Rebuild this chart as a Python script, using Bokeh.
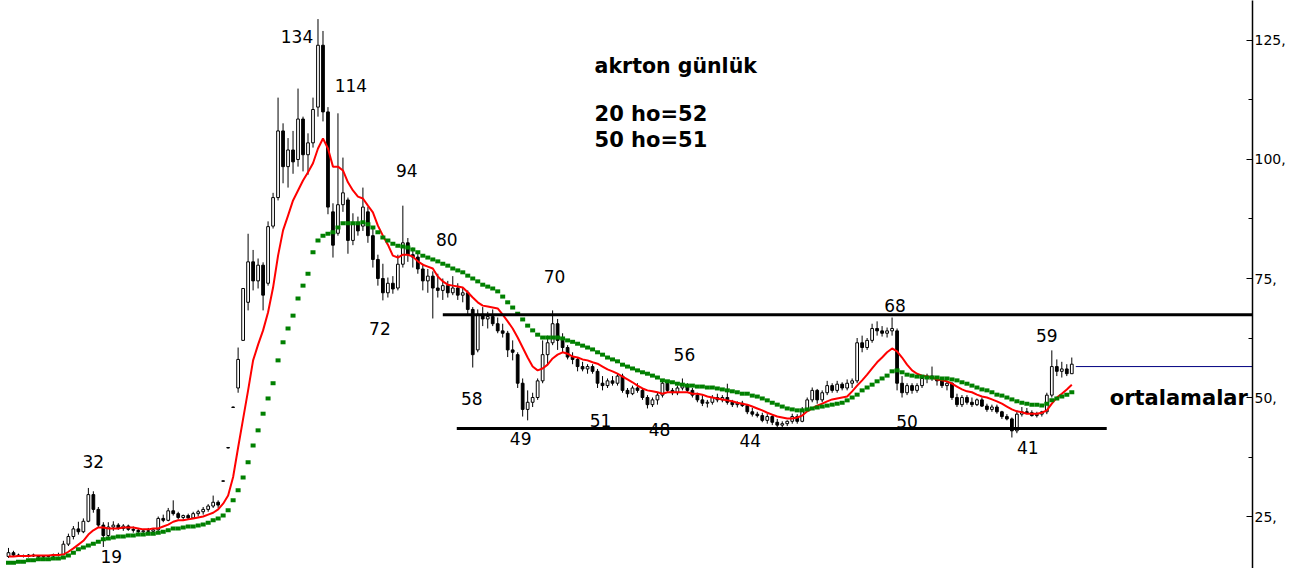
from bokeh.plotting import figure
from bokeh.models import Range1d, FixedTicker, CustomJSTickFormatter, ColumnDataSource
from bokeh.core.properties import value
from bokeh.embed import file_html
from bokeh.resources import INLINE

# ---------------- data (daily bars) ----------------
open_ = [
    16.6, 17.4, 16.9, 16.7, 16.6, 16.9, 16.7, 16.5, 16.6, 16.7,
    17.0, 17.0, 19.2, 20.8, 22.4, 21.8, 24.0, 29.6, 26.5, 23.2,
    21.0, 22.8, 23.2, 22.5, 23.0, 22.3, 22.1, 21.8, 22.0, 21.9,
    22.2, 24.6, 24.2, 26.2, 25.6, 24.8, 25.2, 24.7, 25.6, 26.0,
    26.5, 27.2, 28.0, 32.4, 39.4, 47.9, 52.0, 62.0, 70.0, 78.5,
    74.5, 77.8, 74.0, 86.0, 92.0, 106.0, 98.5, 102.0, 100.0, 108.5,
    101.0, 103.5, 111.0, 124.0, 110.0, 89.0, 84.5, 90.5, 91.5, 83.0,
    86.5, 86.0, 89.0, 84.0, 79.0, 75.0, 72.0, 74.0, 73.0, 78.0,
    82.5, 80.0, 79.5, 77.0, 74.5, 75.5, 73.0, 72.5, 73.5, 72.0,
    73.0, 71.5, 72.0, 68.5, 60.0, 67.5, 66.5, 67.0, 65.5, 64.0,
    63.5, 60.0, 59.0, 53.0, 47.5, 49.0, 50.0, 53.5, 59.0, 61.5,
    65.5, 62.0, 60.5, 58.5, 58.0, 56.5, 56.0, 56.5, 55.5, 53.0,
    52.5, 53.5, 53.0, 54.5, 51.5, 50.8, 52.0, 51.5, 50.0, 48.5,
    49.5, 50.5, 53.0, 51.5, 51.0, 52.0, 52.5, 51.5, 50.5, 49.5,
    48.8, 49.0, 50.0, 49.5, 50.0, 49.0, 48.5, 48.8, 48.3, 47.0,
    46.5, 46.2, 45.2, 46.0, 44.8, 44.2, 44.5, 45.0, 46.0, 45.0,
    47.5, 49.5, 51.5, 49.5, 51.0, 52.5, 51.5, 52.8, 52.0, 53.0,
    53.5, 61.5, 60.5, 62.0, 64.5, 64.0, 63.5, 64.0, 64.0, 53.0,
    51.0, 52.5, 51.5, 52.5, 54.0, 54.5, 54.0, 53.5, 52.5, 53.0,
    50.0, 48.5, 50.0, 49.0, 48.5, 49.5, 48.2, 47.5, 48.0, 47.0,
    46.0, 45.5, 43.0, 46.5, 47.0, 46.8, 46.2, 46.5, 47.0, 50.5,
    56.5, 55.5, 56.0, 55.0,
]
high = [
    18.4, 17.8, 17.2, 17.0, 17.1, 17.2, 16.9, 16.8, 16.9, 17.2,
    17.4, 19.9, 21.4, 23.0, 23.9, 24.6, 31.0, 30.3, 27.0, 23.8,
    23.8, 24.0, 23.6, 23.4, 23.3, 22.9, 22.6, 22.4, 22.6, 22.4,
    25.0, 25.4, 26.8, 28.4, 26.0, 25.4, 25.6, 26.0, 26.4, 27.0,
    27.6, 29.4, 28.4, 32.6, 39.6, 48.1, 60.5, 73.0, 84.4, 81.0,
    79.2, 78.4, 87.0, 93.0, 113.0, 107.6, 104.5, 106.0, 114.9, 109.0,
    105.5, 113.0, 129.5, 127.0, 111.0, 90.8, 109.7, 100.4, 92.0, 88.7,
    88.0, 94.1, 90.0, 85.7, 80.0, 78.1, 75.2, 75.5, 80.0, 90.3,
    83.5, 81.5, 80.5, 78.1, 77.0, 76.5, 76.0, 75.0, 74.5, 75.5,
    74.0, 73.0, 72.5, 69.0, 68.5, 69.0, 68.0, 68.5, 66.8, 65.5,
    64.0, 62.0, 59.5, 54.0, 51.5, 51.0, 54.0, 62.0, 63.0, 68.3,
    66.5, 63.5, 61.0, 59.5, 58.5, 57.5, 57.0, 57.0, 56.0, 54.5,
    54.0, 54.5, 55.0, 55.0, 52.0, 52.5, 53.0, 52.0, 50.5, 50.0,
    51.0, 53.6, 53.5, 52.0, 52.5, 54.0, 53.0, 52.0, 51.0, 50.5,
    49.5, 50.5, 50.8, 50.5, 52.9, 49.5, 49.2, 49.3, 48.5, 47.8,
    47.0, 46.8, 46.5, 46.5, 45.5, 45.0, 45.2, 46.6, 46.5, 48.0,
    50.0, 52.1, 51.8, 51.5, 53.5, 53.0, 53.5, 53.2, 53.8, 54.0,
    62.5, 63.0, 62.5, 65.5, 66.0, 65.0, 64.7, 66.8, 64.5, 54.5,
    53.0, 53.0, 53.0, 54.5, 55.0, 56.5, 54.5, 54.2, 53.5, 53.2,
    50.8, 50.5, 50.5, 50.0, 49.8, 50.0, 48.7, 48.5, 48.5, 47.2,
    46.5, 45.8, 47.3, 48.0, 47.8, 47.3, 47.0, 47.2, 51.0, 59.9,
    58.0, 57.5, 57.0, 58.4,
]
low = [
    16.3, 16.6, 16.5, 16.4, 16.4, 16.5, 16.3, 16.2, 16.4, 16.5,
    16.6, 16.9, 18.8, 20.2, 21.2, 21.5, 23.8, 25.8, 22.6, 18.6,
    20.3, 22.0, 22.2, 22.0, 22.0, 21.6, 21.5, 21.4, 21.6, 21.5,
    22.0, 23.8, 24.0, 25.2, 24.4, 24.3, 24.4, 24.5, 25.0, 25.4,
    26.0, 26.8, 26.8, 32.3, 39.3, 47.8, 51.0, 62.0, 68.3, 72.5,
    72.9, 68.3, 73.5, 85.5, 91.4, 95.0, 94.1, 97.0, 98.5, 97.5,
    96.8, 102.5, 109.0, 108.0, 88.5, 79.4, 84.0, 89.0, 80.2, 82.0,
    84.0, 85.0, 82.5, 77.3, 73.5, 70.4, 71.0, 71.8, 72.5, 77.3,
    78.5, 77.3, 76.0, 72.5, 72.0, 66.6, 71.0, 70.5, 71.0, 71.5,
    70.5, 70.0, 67.2, 56.3, 59.5, 65.0, 64.5, 65.0, 63.5, 62.6,
    58.5, 57.8, 52.0, 46.0, 45.2, 48.0, 49.5, 53.0, 57.0, 61.0,
    60.0, 59.5, 58.0, 57.0, 55.5, 55.5, 55.0, 55.0, 52.0, 51.5,
    52.0, 52.5, 52.5, 51.0, 50.0, 50.5, 51.0, 49.5, 47.7, 48.0,
    48.5, 50.0, 51.0, 50.5, 50.5, 51.5, 51.0, 50.0, 49.0, 48.2,
    47.9, 48.5, 49.0, 49.0, 48.5, 48.0, 47.9, 48.0, 46.5, 46.0,
    45.8, 44.8, 44.5, 44.2, 43.7, 43.8, 44.0, 44.5, 44.5, 44.8,
    47.0, 49.0, 48.7, 49.0, 50.5, 51.0, 51.0, 51.5, 51.5, 52.0,
    53.0, 59.5, 60.0, 61.5, 63.0, 62.8, 62.6, 63.0, 51.5, 50.0,
    50.5, 50.8, 51.0, 52.0, 53.0, 53.5, 52.5, 52.0, 51.5, 49.5,
    48.0, 48.0, 48.5, 48.0, 48.2, 48.0, 47.0, 47.0, 46.6, 45.5,
    45.2, 41.6, 42.5, 46.0, 46.5, 46.0, 45.8, 46.0, 46.5, 50.0,
    54.5, 54.2, 54.5, 55.0,
]
close = [
    17.4, 16.9, 16.7, 16.6, 16.9, 16.7, 16.5, 16.6, 16.7, 17.0,
    16.9, 19.2, 20.8, 22.4, 21.8, 24.0, 29.6, 26.5, 23.2, 21.0,
    22.8, 23.2, 22.5, 23.0, 22.3, 22.1, 21.8, 22.0, 21.9, 22.2,
    24.6, 24.2, 26.2, 25.6, 24.8, 25.2, 24.7, 25.6, 26.0, 26.5,
    27.2, 28.0, 27.4, 32.5, 39.5, 48.0, 58.0, 72.9, 78.5, 74.5,
    77.8, 71.5, 85.9, 92.0, 106.0, 98.5, 102.0, 99.5, 108.5, 101.0,
    103.5, 110.5, 124.0, 110.0, 90.0, 82.0, 90.5, 93.0, 83.0, 86.5,
    85.0, 90.0, 84.0, 79.0, 75.0, 72.0, 74.0, 72.8, 78.0, 82.5,
    80.0, 79.5, 77.0, 74.5, 75.5, 73.0, 72.5, 73.5, 72.0, 73.0,
    71.5, 72.0, 68.5, 59.0, 67.5, 66.5, 67.0, 65.5, 64.0, 63.5,
    60.0, 59.5, 53.0, 47.5, 49.0, 50.0, 53.5, 59.0, 61.5, 65.5,
    62.0, 60.5, 58.5, 58.0, 56.5, 56.0, 56.5, 55.5, 53.0, 52.5,
    53.5, 53.0, 54.5, 51.5, 50.8, 52.0, 51.5, 50.0, 48.5, 49.5,
    50.5, 53.0, 51.5, 51.0, 52.0, 52.5, 51.5, 50.5, 49.5, 48.8,
    49.0, 50.0, 49.5, 50.0, 49.0, 48.5, 48.8, 48.3, 47.0, 46.5,
    46.2, 45.2, 46.0, 44.8, 44.2, 44.5, 45.0, 46.0, 45.0, 47.5,
    49.5, 51.5, 49.5, 51.0, 52.5, 51.5, 52.8, 52.0, 53.0, 53.5,
    61.5, 60.5, 62.0, 64.5, 64.0, 63.5, 64.0, 64.5, 53.0, 51.0,
    52.5, 51.5, 52.5, 54.0, 54.5, 54.0, 53.5, 52.5, 53.0, 50.0,
    48.5, 50.0, 49.0, 48.5, 49.5, 48.2, 47.5, 48.0, 47.0, 46.0,
    45.5, 43.0, 46.5, 47.0, 46.8, 46.2, 46.5, 47.0, 50.5, 56.5,
    55.5, 56.0, 55.0, 57.0,
]
ma20 = [
    16.6, 16.6, 16.7, 16.7, 16.7, 16.8, 16.8, 16.8, 16.8, 16.9,
    16.9, 17.0, 17.6, 18.3, 19.1, 19.9, 21.2, 22.1, 22.7, 22.7,
    22.5, 22.5, 22.5, 22.7, 22.7, 22.7, 22.5, 22.3, 22.3, 22.5,
    22.5, 22.9, 23.3, 23.9, 24.2, 24.2, 24.4, 24.6, 24.8, 25.0,
    25.4, 25.8, 26.5, 27.7, 29.4, 33.3, 39.5, 45.5, 51.5, 57.8,
    61.1, 64.1, 67.9, 73.1, 79.8, 85.1, 88.2, 91.4, 93.5, 95.6,
    97.3, 99.2, 102.3, 104.4, 102.3, 98.5, 98.5, 97.7, 95.2, 93.5,
    92.2, 91.8, 90.3, 88.9, 86.1, 84.0, 82.1, 79.8, 79.4, 80.0,
    80.0, 79.6, 78.6, 77.9, 77.5, 77.1, 75.4, 74.4, 73.7, 73.5,
    73.3, 73.1, 72.1, 71.0, 70.0, 69.3, 69.1, 68.9, 68.7, 67.4,
    66.0, 64.5, 62.6, 60.5, 58.4, 56.5, 55.7, 56.1, 56.9, 58.2,
    59.0, 59.5, 59.2, 58.6, 58.4, 58.0, 57.8, 57.4, 57.1, 56.5,
    55.9, 55.5, 55.0, 54.4, 53.8, 53.2, 52.5, 51.9, 51.5, 51.3,
    51.1, 50.8, 51.1, 51.1, 51.1, 51.1, 51.1, 50.8, 50.8, 50.6,
    50.2, 50.0, 49.8, 49.6, 49.4, 49.2, 48.9, 48.7, 48.5, 48.1,
    47.7, 47.3, 46.8, 46.4, 46.0, 45.8, 45.6, 45.6, 45.8, 46.2,
    47.1, 47.7, 48.3, 48.7, 49.2, 49.6, 49.8, 50.0, 50.2, 51.3,
    52.5, 53.6, 54.8, 56.1, 57.4, 58.4, 59.5, 60.3, 59.7, 58.4,
    56.9, 55.7, 55.0, 54.6, 54.4, 54.2, 53.8, 53.6, 53.4, 52.9,
    52.3, 51.7, 51.3, 51.1, 50.6, 50.2, 50.0, 49.6, 49.2, 48.7,
    48.1, 47.5, 47.1, 46.9, 46.6, 46.6, 46.6, 46.8, 47.3, 48.7,
    50.0, 50.8, 51.7, 52.7,
]
ma50 = [
    15.3, 15.3, 15.5, 15.5, 15.8, 15.8, 16.0, 16.0, 16.0, 16.2,
    16.2, 16.4, 16.8, 17.4, 18.1, 18.5, 18.9, 19.3, 19.7, 20.2,
    20.4, 20.6, 20.8, 20.8, 21.0, 21.0, 21.2, 21.2, 21.4, 21.4,
    21.6, 21.8, 22.1, 22.5, 22.5, 22.7, 22.9, 22.9, 23.1, 23.3,
    23.7, 24.2, 24.6, 25.2, 26.3, 28.4, 30.5, 33.2, 36.4, 39.9,
    43.1, 46.6, 49.8, 53.0, 57.8, 61.6, 64.5, 67.2, 70.8, 73.5,
    76.0, 80.5, 83.0, 84.0, 84.4, 84.7, 85.7, 86.6, 86.6, 86.6,
    86.6, 86.8, 86.4, 85.7, 84.7, 83.6, 83.0, 82.3, 81.9, 81.7,
    81.5, 81.1, 80.5, 79.8, 79.4, 79.0, 78.6, 78.1, 77.7, 77.1,
    76.7, 76.3, 75.6, 75.0, 74.4, 73.7, 73.3, 72.9, 72.3, 71.2,
    70.0, 68.9, 67.6, 66.4, 65.1, 64.1, 63.2, 62.6, 62.6, 62.6,
    62.6, 62.4, 62.0, 61.7, 61.3, 60.9, 60.5, 60.1, 59.5, 59.0,
    58.4, 58.0, 57.6, 56.9, 56.5, 56.1, 55.7, 55.3, 55.0, 54.6,
    54.2, 53.6, 53.4, 53.2, 52.9, 52.7, 52.5, 52.5, 52.3, 52.3,
    52.1, 52.1, 51.9, 51.7, 51.5, 51.3, 51.1, 50.8, 50.8, 50.4,
    50.2, 49.8, 49.4, 48.9, 48.5, 48.1, 47.7, 47.5, 47.3, 47.3,
    47.5, 47.7, 47.9, 48.1, 48.3, 48.5, 48.7, 48.9, 49.4, 50.0,
    50.6, 51.5, 52.1, 52.7, 53.4, 54.0, 54.6, 55.5, 55.7, 55.3,
    54.8, 54.6, 54.4, 54.4, 54.2, 54.2, 54.2, 54.0, 54.0, 53.8,
    53.6, 53.2, 52.9, 52.5, 52.1, 51.7, 51.5, 51.1, 50.6, 50.4,
    50.0, 49.6, 49.2, 48.9, 48.7, 48.5, 48.5, 48.3, 48.7, 49.4,
    49.8, 50.2, 50.6, 51.1,
]

# horizontal levels drawn on the chart
resistance = 67.4
support = 43.5
last_level = 56.5

# annotation texts
peak_labels = ["134", "114", "94", "80", "72", "70", "58", "49", "51", "48",
               "56", "44", "68", "50", "41", "59", "32", "19"]
title_lines = ["akrton günlük", "20 ho=52", "50 ho=51"]
side_note = "ortalamalar"
y_ticks = [25, 50, 75, 100, 125]
y_minor = [12.5, 37.5, 62.5, 87.5, 112.5]

# ---------------- layout constants ----------------
lab_x = [57.8, 68.6, 79.8, 87.8, 74.4, 109.4, 92.8, 102.6, 118.6, 130.4,
         135.4, 148.6, 177.6, 180.0, 204.2, 208.0, 17.0, 20.6]
lab_y = [125.8, 115.5, 97.7, 83.2, 64.5, 75.4, 49.8, 41.4, 45.2, 43.3,
         59.0, 41.0, 69.3, 45.0, 39.5, 63.0, 36.6, 16.6]

n = len(close)
xs = list(range(n))

p = figure(width=1288, height=568, output_backend="svg", toolbar_location=None,
           x_range=Range1d(-1.6, 249.2), y_range=Range1d(14.08, 133.40),
           x_axis_location=None, y_axis_location="right",
           min_border_left=0, min_border_top=0, min_border_bottom=0,
           min_border_right=34)
p.grid.visible = False
p.outline_line_color = None
p.background_fill_color = "white"
p.border_fill_color = "white"

# candles
top = [max(o, c) for o, c in zip(open_, close)]
bot = [min(o, c) for o, c in zip(open_, close)]
fill = ["white" if c > o else "black" for o, c in zip(open_, close)]
src = ColumnDataSource(dict(x=xs, h=high, l=low, top=top, bot=bot, fill=fill))
p.segment(x0="x", y0="l", x1="x", y1="h", source=src, line_color="black", line_width=1)
p.vbar(x="x", top="top", bottom="bot", width=0.55, source=src,
       fill_color="fill", line_color="black", line_width=1)

# moving averages
p.line(xs, ma20, line_color="#ff0000", line_width=2)
p.rect(x=xs, y=ma50, width=1.0, height=4, height_units="screen",
       fill_color="#008000", line_color=None)

# levels
p.line([87, 252], [resistance, resistance], line_color="black", line_width=3)
p.line([89.8, 220], [support, support], line_color="black", line_width=3)
p.line([213.8, 252], [last_level, last_level], line_color="#000080", line_width=1)

# labels
p.text(x=lab_x, y=lab_y, text=peak_labels, text_font=value("DejaVu Sans"),
       text_font_size="17px", text_align="center", text_baseline="middle",
       text_color="black")
p.text(x=[117.4], y=[119.7], text=[title_lines[0]], text_font=value("DejaVu Sans"),
       text_font_size="20.5px", text_font_style="bold", text_align="left",
       text_baseline="middle", text_color="black")
p.text(x=[117.4, 117.4], y=[109.5, 104.2], text=title_lines[1:],
       text_font=value("DejaVu Sans"), text_font_size="21px",
       text_font_style="bold", text_align="left", text_baseline="middle",
       text_color="black")
p.text(x=[220.6], y=[49.8], text=[side_note], text_font=value("DejaVu Sans"),
       text_font_size="21px", text_font_style="bold", text_align="left",
       text_baseline="middle", text_color="black")

# right axis
ax = p.yaxis[0]
ax.ticker = FixedTicker(ticks=y_ticks, minor_ticks=y_minor)
ax.formatter = CustomJSTickFormatter(code="return tick + ','")
ax.axis_line_color = "black"
ax.axis_line_width = 1.5
ax.major_tick_in = 6
ax.major_tick_out = 0
ax.minor_tick_in = 4
ax.minor_tick_out = 0
ax.major_tick_line_color = "black"
ax.minor_tick_line_color = "black"
ax.major_label_standoff = 2
ax.major_label_text_font = "DejaVu Sans"
ax.major_label_text_font_size = "14px"
ax.major_label_text_color = "black"

open("out.html", "w").write(file_html(p, INLINE))
